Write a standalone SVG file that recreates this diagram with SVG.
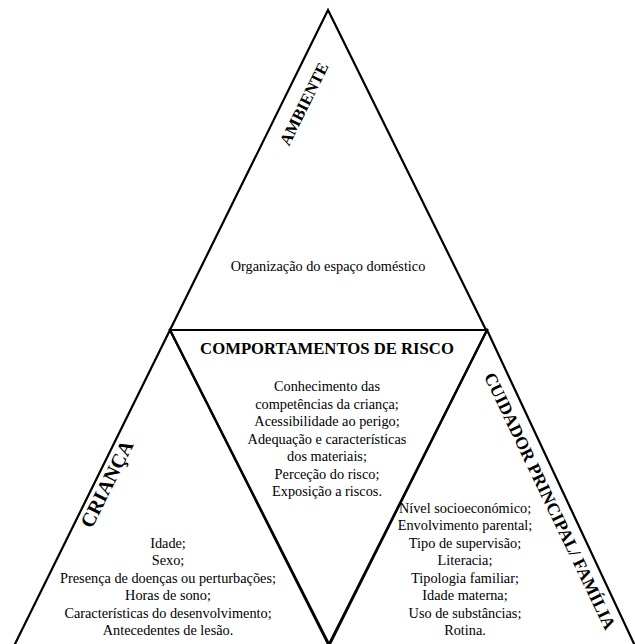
<svg xmlns="http://www.w3.org/2000/svg" width="635" height="644" viewBox="0 0 635 644">
<style>
.edge{fill:none;stroke:#000;stroke-width:2.2;stroke-linejoin:miter}
.t{font-family:"Liberation Serif","Times New Roman",serif;font-size:14.3px;fill:#000;text-anchor:middle}
.h{font-family:"Liberation Serif","Times New Roman",serif;font-weight:bold;fill:#000;text-anchor:middle}
</style>
<rect width="635" height="644" fill="#fff"/>
<g id="connectors">
</g>
<g id="ambiente">
<path class="edge" d="M170,330 L328,10 L486,330"/>
<text class="h" font-size="16.5" transform="translate(304,104) rotate(-63.7)" y="5.5">AMBIENTE</text>
<text class="t" x="328" y="271">Organização do espaço doméstico</text>
</g>
<g id="comportamentos">
<path class="edge" d="M170,330 L487,330 L329,646 Z"/>
<text class="h" font-size="16.7" x="327" y="354">COMPORTAMENTOS DE RISCO</text>
<text class="t" x="327" y="391">Conhecimento das</text>
<text class="t" x="327" y="408.5">competências da criança;</text>
<text class="t" x="327" y="426">Acessibilidade ao perigo;</text>
<text class="t" x="327" y="443.5">Adequação e características</text>
<text class="t" x="327" y="461">dos materiais;</text>
<text class="t" x="327" y="478.5">Perceção do risco;</text>
<text class="t" x="327" y="496">Exposição a riscos.</text>
</g>
<g id="crianca">
<path class="edge" d="M13,648 L170,330 L331,648"/>
<text class="h" font-size="20" transform="translate(107,484) rotate(-63.4)" y="6.5">CRIANÇA</text>
<text class="t" x="168" y="547.5">Idade;</text>
<text class="t" x="168" y="565">Sexo;</text>
<text class="t" x="168" y="582.5">Presença de doenças ou perturbações;</text>
<text class="t" x="168" y="600">Horas de sono;</text>
<text class="t" x="168" y="617.5">Características do desenvolvimento;</text>
<text class="t" x="168" y="635">Antecedentes de lesão.</text>
</g>
<g id="cuidador">
<path class="edge" d="M327,648 L487,330 L636,648"/>
<text class="h" font-size="17.5" transform="translate(550,501) rotate(64.5)" y="6">CUIDADOR PRINCIPAL/ FAMÍLIA</text>
<text class="t" x="465" y="512.5">Nível socioeconómico;</text>
<text class="t" x="465" y="530">Envolvimento parental;</text>
<text class="t" x="465" y="547.5">Tipo de supervisão;</text>
<text class="t" x="465" y="565">Literacia;</text>
<text class="t" x="465" y="582.5">Tipologia familiar;</text>
<text class="t" x="465" y="600">Idade materna;</text>
<text class="t" x="465" y="617.5">Uso de substâncias;</text>
<text class="t" x="465" y="635">Rotina.</text>
</g>
</svg>
